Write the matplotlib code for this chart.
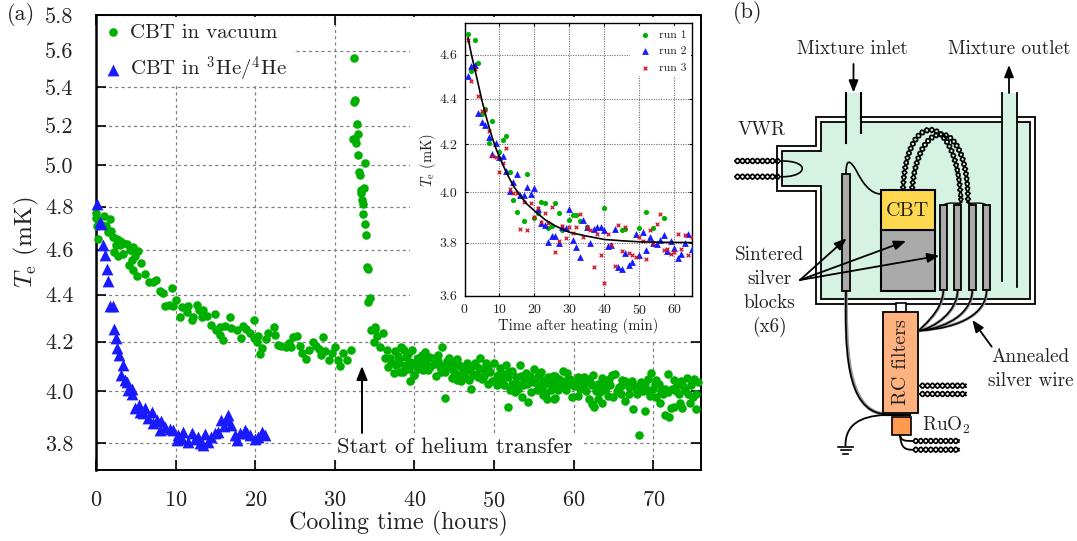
import numpy as np
from matplotlib import pyplot as plt
from matplotlib import rcParams
from matplotlib.patches import Rectangle, Polygon, PathPatch
from matplotlib.path import Path
from matplotlib.ticker import NullLocator

rcParams["font.family"] = "cmr10"
rcParams["mathtext.fontset"] = "cm"
rcParams["axes.formatter.use_mathtext"] = True
rcParams["axes.unicode_minus"] = False

text_color = "#222222"
green = "#00b000"
blue = "#1a1aff"
red = "#d01020"
tube_green = "#d5f2e3"
grid_gray = "#808080"

# (hours, mK)
vacuum_cooldown = [
    (0.0, 4.77), (0.05, 4.745), (0.17, 4.71), (0.25, 4.65), (1.0, 4.755), (1.7, 4.74), (0.7, 4.715),
    (1.25, 4.71), (1.85, 4.685), (1.55, 4.68), (2.1, 4.66), (2.6, 4.65), (3.0, 4.64), (3.4, 4.63),
    (3.9, 4.625), (4.7, 4.61), (5.3, 4.595), (2.25, 4.59), (2.8, 4.57), (3.4, 4.578), (3.0, 4.62),
    (2.5, 4.62), (4.3, 4.6), (4.9, 4.57), (4.5, 4.555), (5.7, 4.54), (4.2, 4.53), (4.6, 4.51),
    (5.1, 4.48), (6.2, 4.49), (6.7, 4.455), (7.5, 4.465), (7.1, 4.455), (8.0, 4.415), (8.4, 4.405),
    (9.5, 4.43), (8.7, 4.35), (9.2, 4.355), (10.0, 4.375), (9.7, 4.35), (10.5, 4.305), (10.75, 4.345),
    (11.6, 4.35), (11.4, 4.325), (12.0, 4.29), (12.2, 4.305), (12.7, 4.355), (13.0, 4.335),
    (13.5, 4.335), (13.3, 4.305), (13.9, 4.31), (15.0, 4.315), (14.4, 4.27), (15.1, 4.25),
    (15.6, 4.262), (16.2, 4.265), (16.8, 4.305), (17.0, 4.258), (17.7, 4.25), (18.2, 4.217),
    (16.0, 4.207), (15.6, 4.23), (18.5, 4.265), (18.9, 4.255), (19.8, 4.292), (19.3, 4.238),
    (19.8, 4.215), (20.2, 4.2), (20.6, 4.15), (20.9, 4.175), (20.3, 4.223), (21.3, 4.213),
    (21.6, 4.238), (22.3, 4.26), (22.5, 4.23), (22.9, 4.187), (23.3, 4.184), (23.9, 4.177),
    (24.2, 4.196), (24.5, 4.177), (24.8, 4.22), (25.2, 4.224), (25.6, 4.182), (25.9, 4.153),
    (26.4, 4.13), (26.7, 4.166), (27.2, 4.197), (27.6, 4.182), (28.0, 4.17), (28.5, 4.218),
    (28.3, 4.146), (28.8, 4.16), (29.3, 4.126), (29.6, 4.153), (30.0, 4.18), (30.4, 4.126),
    (31.0, 4.153), (30.7, 4.1), (31.5, 4.126), (32.0, 4.166),
]
vacuum_spike = [
    (32.4, 5.56), (32.5, 5.333), (32.4, 5.32), (32.8, 5.21), (32.9, 5.157), (32.3, 5.13), (32.7, 5.113),
    (32.5, 5.13), (32.95, 5.05), (33.8, 5.01), (33.05, 4.967), (33.15, 4.953), (33.7, 4.89),
    (33.35, 4.88), (33.35, 4.865), (33.4, 4.83), (33.6, 4.81), (33.55, 4.765), (33.8, 4.718),
    (33.9, 4.667), (34.0, 4.52), (34.2, 4.515), (34.2, 4.37), (34.4, 4.385),
]
vacuum_after = [
    (34.6, 4.25), (35.0, 4.263), (35.1, 4.255), (35.3, 4.223), (36.1, 4.236), (34.9, 4.197), (35.7, 4.18),
    (36.5, 4.164), (36.3, 4.133), (36.9, 4.133), (37.5, 4.16), (36.7, 4.096), (38.3, 4.18),
    (38.7, 4.164), (39.7, 4.166), (37.4, 4.072), (38.0, 4.112), (38.7, 4.085), (39.4, 4.042),
    (39.9, 4.065), (40.3, 4.126), (39.0, 4.105), (37.7, 4.105), (38.2, 4.075), (38.4, 4.173),
    (38.6, 4.075), (38.8, 4.09), (39.5, 4.118), (40.0, 4.064), (40.1, 4.105), (40.5, 4.132),
    (41.1, 4.084), (41.3, 4.159), (41.8, 4.139), (42.2, 4.132), (42.4, 4.11), (42.7, 4.061),
    (42.9, 4.146), (43.2, 4.098), (43.5, 4.177), (43.8, 3.972), (43.9, 4.078), (44.3, 4.132),
    (44.7, 4.091), (44.7, 4.054), (45.3, 4.129), (45.3, 4.044), (45.9, 4.041), (45.9, 4.098),
    (46.2, 4.08), (46.6, 4.112), (46.8, 4.044), (47.1, 4.007), (47.4, 4.064), (47.6, 4.112),
    (48.1, 4.091), (48.2, 4.132), (48.5, 4.05), (49.0, 4.112), (49.3, 4.03), (49.5, 4.078),
    (50.0, 4.112), (50.4, 4.023), (50.5, 4.064), (50.8, 4.091), (51.2, 4.023), (51.5, 4.105),
    (51.7, 4.057), (51.8, 3.937), (52.0, 4.003), (52.6, 3.996), (52.7, 4.057), (52.9, 4.03),
    (53.2, 4.105), (53.5, 3.976), (53.7, 4.023), (54.0, 4.071), (54.3, 3.958), (54.6, 3.996),
    (54.8, 4.037), (55.0, 4.087), (55.4, 4.003), (55.9, 4.078), (56.2, 4.044), (56.5, 3.993),
    (56.7, 3.969), (56.8, 4.057), (57.1, 4.003), (57.3, 4.03), (57.4, 4.061), (57.5, 3.969),
    (57.7, 3.973), (58.7, 4.08), (59.0, 4.003), (59.2, 4.071), (59.6, 4.05), (59.8, 3.976),
    (60.3, 4.037), (60.5, 3.982), (61.3, 4.023), (61.3, 4.057), (61.9, 3.969), (62.3, 4.023),
    (62.3, 3.948), (62.4, 4.064), (62.6, 3.939), (63.1, 3.969), (63.3, 3.996), (63.6, 4.053),
    (63.6, 3.955), (64.0, 4.003), (64.6, 4.023), (64.8, 4.064), (65.0, 3.976), (65.2, 4.067),
    (65.7, 4.016), (66.1, 4.044), (66.4, 3.962), (66.9, 4.016), (67.4, 3.931), (67.5, 4.023),
    (68.0, 3.99), (68.2, 3.83), (68.4, 4.037), (69.0, 3.924), (69.0, 4.023), (69.3, 4.048),
    (69.6, 3.982), (69.7, 4.071), (70.3, 3.976), (70.7, 4.03), (70.9, 3.955), (71.5, 3.908),
    (71.5, 4.01), (71.8, 4.067), (71.9, 3.996), (72.0, 3.9), (72.2, 3.935), (72.6, 4.044),
    (72.6, 3.937), (73.2, 3.989), (73.4, 3.955), (73.6, 3.935), (74.0, 4.003), (74.2, 4.053),
    (74.6, 3.955), (74.8, 4.023), (75.0, 3.976), (75.1, 4.05), (75.4, 3.931), (75.4, 3.989),
    (75.6, 4.037),
]
vacuum_band = [
    (38.1, 4.125), (38.9, 4.135), (39.3, 4.09), (40.7, 4.1), (41.0, 4.125), (41.5, 4.11), (42.0, 4.095),
    (43.0, 4.12), (43.6, 4.1), (44.0, 4.105), (45.0, 4.075), (45.5, 4.065), (46.0, 4.06),
    (46.5, 4.09), (47.0, 4.085), (47.8, 4.07), (48.8, 4.06), (49.8, 4.04), (50.2, 4.05),
    (51.0, 4.04), (51.9, 4.075), (52.3, 4.03), (53.0, 4.01), (53.4, 4.06), (54.2, 4.03),
    (55.2, 4.035), (55.6, 4.02), (56.0, 4.01), (56.4, 4.03), (57.0, 4.05), (57.8, 4.03),
    (58.2, 4.05), (58.5, 4.02), (58.9, 4.04), (59.4, 4.03), (60.0, 4.02), (60.8, 4.01),
    (61.0, 4.04), (61.6, 4.0), (62.0, 4.035), (62.8, 4.0), (63.0, 4.03), (63.9, 4.03),
    (64.3, 3.98), (64.5, 4.05), (65.4, 4.0), (66.0, 4.02), (66.5, 4.04), (67.0, 3.99),
    (67.3, 4.04), (67.8, 4.01), (68.7, 4.0), (69.3, 4.0), (70.0, 4.01), (70.4, 4.045),
    (71.0, 4.0), (71.2, 3.99), (72.3, 4.01), (72.9, 4.0), (73.0, 4.03), (73.8, 4.02),
    (74.4, 3.99), (37.0, 4.115), (37.9, 4.14), (39.2, 4.15), (40.4, 4.09), (40.9, 4.145),
    (41.7, 4.085), (42.6, 4.125), (43.3, 4.075), (44.1, 4.12), (44.9, 4.11), (45.6, 4.105),
    (46.4, 4.055), (47.2, 4.1), (48.0, 4.055), (48.7, 4.09), (49.2, 4.095), (50.7, 4.035),
    (51.4, 4.07), (52.2, 4.08), (53.8, 4.045), (54.5, 4.06), (55.5, 4.06), (56.1, 3.985),
    (57.6, 4.06), (58.0, 4.005), (60.6, 4.055), (61.9, 4.05), (63.4, 4.02), (65.9, 3.99),
    (68.2, 4.02), (70.2, 4.03), (73.5, 4.04),
]
helium = [
    (0.1, 4.81), (0.5, 4.725), (0.6, 4.72), (0.85, 4.62), (1.1, 4.575), (1.35, 4.515), (1.55, 4.46),
    (1.8, 4.35), (2.1, 4.35), (2.25, 4.254), (2.5, 4.216), (2.7, 4.173), (2.95, 4.146),
    (3.35, 4.105), (3.1, 4.065), (3.65, 4.044), (3.9, 4.037), (4.05, 4.004), (4.55, 4.008),
    (4.5, 3.988), (4.9, 3.933), (5.45, 3.946), (5.5, 3.92), (6.1, 3.933), (5.95, 3.914),
    (7.05, 3.92), (6.55, 3.894), (7.2, 3.875), (7.6, 3.888), (8.2, 3.882), (8.0, 3.85),
    (8.65, 3.862), (9.3, 3.852), (9.7, 3.85), (10.2, 3.81), (10.3, 3.83), (10.95, 3.842),
    (10.75, 3.816), (11.6, 3.803), (12.0, 3.836), (12.4, 3.816), (12.85, 3.823), (13.5, 3.791),
    (13.05, 3.8), (13.75, 3.834), (14.1, 3.805), (14.5, 3.823), (14.95, 3.836), (15.35, 3.842),
    (15.65, 3.888), (16.05, 3.865), (16.6, 3.907), (16.4, 3.888), (17.0, 3.868), (17.45, 3.83),
    (17.75, 3.81), (18.05, 3.836), (18.7, 3.85), (19.0, 3.836), (19.3, 3.83), (19.95, 3.816),
    (20.4, 3.823), (20.9, 3.842), (21.2, 3.83),
]

# inset, (minutes, mK)
run1 = [
    (1, 4.70), (2, 4.525), (3, 4.67), (4, 4.56), (5, 4.33), (6, 4.355), (7, 4.207), (8, 4.30), (10, 4.165),
    (11, 4.22), (12, 4.235), (13, 4.085), (14, 3.97), (15, 3.92), (17, 3.885), (18, 4.075),
    (20, 3.895), (21, 3.915), (22, 3.96), (23, 3.958), (24, 3.857), (25, 3.865), (26, 3.955),
    (27, 3.917), (28, 3.85), (30, 3.89), (31, 3.908), (32, 3.907), (33, 3.883), (35, 3.86),
    (40, 3.937), (45, 3.85), (46, 3.852), (50, 3.857), (52, 3.92), (54, 3.858), (57, 3.895),
]
run2_T = [
    4.5, 4.55, 4.553, 4.335, 4.295, 4.285, 4.233, 4.157, 4.205, 4.145, 4.152, 4.088, 4.005, 4.04, 4.073,
    3.99, 3.988, 4.02, 3.992, 4.015, 3.933, 3.875, 3.868, 3.803, 3.825, 3.827, 3.797, 3.862, 3.855,
    3.933, 3.81, 3.782, 3.745, 3.89, 3.862, 3.797, 3.853, 3.86, 3.86, 3.85, 3.785, 3.79, 3.852,
    3.708, 3.698, 3.76, 3.716, 3.724, 3.833, 3.752, 3.84, 3.77, 3.822, 3.797, 3.796, 3.81, 3.83,
    3.767, 3.805, 3.78, 3.742, 3.755, 3.8, 3.832, 3.777,
]
run3_T = [
    4.67, 4.48, 4.535, 4.41, 4.345, 4.348, 4.257, 4.15, 4.145, 4.085, 4.12, 4.185, 4.012, 3.997, 3.997,
    3.853, 3.96, 3.85, 3.958, 3.9, 3.937, 3.882, 3.918, 3.875, 3.94, 3.762, 3.805, 3.865, 3.817,
    3.862, 3.838, 3.862, 3.913, 3.82, 3.86, 3.85, 3.706, 3.835, 3.752, 3.645, 3.833, 3.79, 3.712,
    3.87, 3.767, 3.86, 3.758, 3.752, 3.745, 3.82, 3.808, 3.737, 3.847, 3.8, 3.872, 3.912, 3.77,
    3.775, 3.757, 3.762, 3.835, 3.777, 3.83, 3.752, 3.822,
]
run_minutes = list(range(1, 66))
fit_minutes = [1, 2, 3, 4, 5, 6, 7, 8, 9, 10, 12, 14, 16, 18, 20, 23, 26, 30, 35, 40, 45, 50, 57, 65]
fit_T = [4.68, 4.60, 4.53, 4.46, 4.39, 4.33, 4.275, 4.225, 4.182, 4.145, 4.08, 4.025, 3.985, 3.95, 3.925,
         3.89, 3.865, 3.84, 3.825, 3.812, 3.807, 3.803, 3.801, 3.80]

main_yticks = [3.8, 4.0, 4.2, 4.4, 4.6, 4.8, 5.0, 5.2, 5.4, 5.6, 5.8]
main_xticks = [0, 10, 20, 30, 40, 50, 60, 70]
inset_yticks = [3.6, 3.8, 4.0, 4.2, 4.4, 4.6]
inset_xticks = [0, 10, 20, 30, 40, 50, 60]

W, H = 1077, 541


def box(x0, y0, x1, y1):
    # pixel box to figure fractions
    return [x0 / W, 1 - y1 / H, (x1 - x0) / W, (y1 - y0) / H]


fig = plt.figure(figsize=(W / 100, H / 100), dpi=100)
ax = fig.add_axes(box(96, 15, 701, 470))
sch = fig.add_axes([0, 0, 1, 1], zorder=5)
sch.set_xlim(0, W)
sch.set_ylim(H, 0)
sch.axis("off")

vacuum = np.array(vacuum_cooldown + vacuum_spike + vacuum_after + vacuum_band)
he = np.array(helium)
ax.scatter(vacuum[:, 0], vacuum[:, 1], s=38, color=green, linewidths=0, zorder=3, clip_on=False,
           label="CBT in vacuum")
ax.scatter(he[:, 0], he[:, 1], s=72, marker="^", color=blue, linewidths=0, zorder=4, clip_on=False,
           label=r"CBT in $^{3}$He/$^{4}$He")
ax.set_yscale("log")
ax.set_xlim(0, 76)
ax.set_ylim(3.7, 5.8)
ax.set_yticks(main_yticks)
ax.set_yticklabels(["%.1f" % v for v in main_yticks])
ax.yaxis.set_minor_locator(NullLocator())
ax.set_xticks(main_xticks)
ax.grid(True, color=grid_gray, linestyle=(0, (2.5, 2.5)), linewidth=0.9)
ax.tick_params(direction="in", length=7, width=1.2, top=True, right=True, labelsize=16,
               labelcolor=text_color, pad=16)
ax.tick_params(axis="x", pad=15)
for spine in ax.spines.values():
    spine.set_linewidth(1.4)
ax.spines["left"].set_linewidth(1.8)
ax.set_xlabel("Cooling time (hours)", fontsize=17.3, color=text_color, labelpad=0)
ax.set_ylabel(r"$T_{\mathrm{e}}$ (mK)", fontsize=18, color=text_color, labelpad=3)

# white ground behind the inset and the legend
ax.add_patch(Rectangle((410, 16.5), 289.5, 324.5, transform=sch.transData, facecolor="white",
                       edgecolor="none", zorder=1.6))
ax.add_patch(Rectangle((97, 16.5), 196, 67.5, transform=sch.transData, facecolor="white",
                       edgecolor="none", zorder=1.6))
leg = ax.legend(loc="upper left", bbox_to_anchor=(0, 1 - 2 / 455), borderaxespad=0, fontsize=15, frameon=False,
                labelspacing=0.62, handletextpad=0.35, handlelength=1.0, borderpad=0.3, scatterpoints=1)
for t in leg.get_texts():
    t.set_color(text_color)
leg.set_zorder(2)

inset = fig.add_axes(box(464.5, 23.3, 691.7, 295.7), zorder=3)
r1 = np.array(run1)
inset.scatter(r1[:, 0], r1[:, 1], s=14, color=green, linewidths=0, zorder=3, label="run 1")
inset.scatter(run_minutes, run2_T, s=24, marker="^", color=blue, linewidths=0, zorder=4, label="run 2")
inset.scatter(run_minutes, run3_T, s=7, marker="x", color=red, linewidths=0.9, zorder=5, label="run 3")
inset.plot(fit_minutes, fit_T, color="black", linewidth=1.2, zorder=6)
inset.set_yscale("log")
inset.set_xlim(0, 65)
inset.set_ylim(3.6, 4.75)
inset.set_yticks(inset_yticks)
inset.set_yticklabels(["%.1f" % v for v in inset_yticks])
inset.yaxis.set_minor_locator(NullLocator())
inset.set_xticks(inset_xticks)
inset.grid(True, color="#707070", linestyle=(0, (1, 1.2)), linewidth=0.8)
inset.tick_params(direction="in", length=2.5, width=0.8, top=True, right=True, labelsize=10,
                  labelcolor=text_color, pad=5)
for spine in inset.spines.values():
    spine.set_linewidth(1.0)
inset.set_xlabel("Time after heating (min)", fontsize=10.5, color=text_color, labelpad=1)
inset.set_ylabel(r"$T_{\mathrm{e}}$ (mK)", fontsize=10.5, color=text_color, labelpad=1)
ileg = inset.legend(loc="upper right", bbox_to_anchor=(1, 1 - 2 / 272), borderaxespad=0.1, fontsize=8.5,
                    frameon=True, framealpha=1, facecolor="white", edgecolor="none", labelspacing=0.5,
                    handletextpad=0.2, borderpad=0.3, fancybox=False)
for t in ileg.get_texts():
    t.set_color(text_color)


def label(x, y, s, size=13.8, **kw):
    kw.setdefault("ha", "center")
    sch.text(x, y, s, fontsize=size, color=text_color, va="center", **kw)


def arrow(x0, y0, x1, y1, lw=1.3, scale=13):
    sch.annotate("", xy=(x1, y1), xytext=(x0, y0),
                 arrowprops=dict(arrowstyle="-|>,head_length=0.55,head_width=0.22", color="black", lw=lw,
                                 mutation_scale=scale, shrinkA=0, shrinkB=0))


def bezier(p0, p1, p2, p3, n=90):
    t = np.linspace(0, 1, n)[:, None]
    p0, p1, p2, p3 = map(np.array, (p0, p1, p2, p3))
    return (1 - t) ** 3 * p0 + 3 * (1 - t) ** 2 * t * p1 + 3 * (1 - t) * t ** 2 * p2 + t ** 3 * p3


def curve(p0, p1, p2, p3, lw=1.2, color="black", zorder=4):
    path = Path([p0, p1, p2, p3], [Path.MOVETO, Path.CURVE4, Path.CURVE4, Path.CURVE4])
    sch.add_patch(PathPatch(path, facecolor="none", edgecolor=color, lw=lw, zorder=zorder))


def twisted(points, amp=2.4, period=10.0, lw=1.25, zorder=4):
    # pair of wires wound round a centre line
    seg = np.diff(points, axis=0)
    dist = np.concatenate([[0], np.cumsum(np.hypot(seg[:, 0], seg[:, 1]))])
    n = np.gradient(points, axis=0)
    n = np.column_stack([-n[:, 1], n[:, 0]]) / np.hypot(n[:, 0], n[:, 1])[:, None]
    for sign in (1, -1):
        off = sign * amp * np.sin(2 * np.pi * dist / period)[:, None]
        p = points + off * n
        sch.plot(p[:, 0], p[:, 1], color="black", lw=lw, zorder=zorder)


def straight(x0, y0, x1, y1, n=60):
    return np.column_stack([np.linspace(x0, x1, n), np.linspace(y0, y1, n)])


# panel (b), all in figure pixels
outer = [(816, 117), (1035, 117), (1035, 303.5), (816, 303.5), (816, 191), (777, 191), (777, 146), (816, 146)]
inner = [(821, 122.3), (1030, 122.3), (1030, 299), (821, 299), (821, 185.7), (782, 185.7), (782, 150.7),
         (821, 150.7)]
sch.add_patch(Polygon(outer, closed=True, facecolor="white", edgecolor="black", lw=1.3, zorder=1))
sch.add_patch(Polygon(inner, closed=True, facecolor=tube_green, edgecolor="black", lw=1.3, zorder=1))
for x0, x1 in [(846, 861), (1001.7, 1016.7)]:
    sch.add_patch(Rectangle((x0, 92.7), x1 - x0, 32, facecolor=tube_green, edgecolor="none", zorder=1.5))
sch.plot([846, 846], [92.7, 143], color="black", lw=1.5, zorder=2)
sch.plot([861, 861], [92.7, 133], color="black", lw=1.5, zorder=2)
sch.plot([1001.7, 1001.7], [92.7, 281], color="black", lw=1.3, zorder=2)
sch.plot([1016.7, 1016.7], [92.7, 286.7], color="black", lw=1.3, zorder=2)
arrow(853.5, 64, 853.5, 92.5)
arrow(1009, 93, 1009, 65)

for x0, x1, y0, y1 in [(841.7, 850.3, 174, 290.7), (939.7, 947, 205, 290), (954, 961.3, 205, 290),
                       (968.7, 976, 205, 290), (983, 990.3, 205, 290)]:
    sch.add_patch(Rectangle((x0, y0), x1 - x0, y1 - y0, facecolor="#aaaaaa", edgecolor="black", lw=1.3, zorder=3))
sch.add_patch(Rectangle((881.3, 230), 53.7, 60.7, facecolor="#aaaaaa", edgecolor="black", lw=1.5, zorder=3))
sch.add_patch(Rectangle((881.3, 190), 53.7, 40, facecolor="#ffd850", edgecolor="black", lw=1.5, zorder=3))
sch.add_patch(Rectangle((895.7, 303), 10, 8.7, facecolor="white", edgecolor="black", lw=1.2, zorder=3))
sch.add_patch(Rectangle((883.3, 311.7), 35, 101.6, facecolor="#ffb27f", edgecolor="black", lw=1.3, zorder=3))
sch.add_patch(Rectangle((891.7, 416.7), 19, 18.3, facecolor="#ff9a50", edgecolor="black", lw=1.2, zorder=3))
sch.plot([885, 910], [415, 415], color="black", lw=1.6, zorder=2.5)

# wires
curve((846, 174), (846, 158), (850, 160), (856, 170))
curve((856, 170), (862, 182), (870, 194), (881, 194))
twisted(bezier((903, 190), (906, 108), (957, 108), (961, 202)))
twisted(bezier((912, 190), (918, 114), (968, 114), (968, 202)))
for x in (943.5, 957.5):
    curve((962, 202), (958, 205), (x + 6, 201), (x, 205), lw=1.0)
for x in (972.5, 986.5):
    curve((967, 202), (970, 205), (x - 6, 201), (x, 205), lw=1.0)

twisted(straight(735, 161, 779, 161))
twisted(straight(735, 176.7, 779, 176.7))
curve((779, 161), (812, 160), (808, 178), (779, 176.7))

curve((846, 291), (846, 345), (846, 412), (885, 414), lw=2.6, color="#999999", zorder=2)
curve((846, 291), (845, 345), (845, 412), (885, 414), lw=1.2)
curve((885, 415), (860, 416), (845, 425), (845.5, 446), lw=1.3)
sch.plot([837.7, 853.3], [446.7, 446.7], color="black", lw=1.2)
sch.plot([840.7, 850.7], [450.3, 450.3], color="black", lw=1.2)
sch.plot([843, 848], [454.3, 454.3], color="black", lw=1.2)
for x in (943.3, 957.6, 972.3, 986.6):
    curve((x, 291), (x, 312), (x - 22, 327), (919, 330.7), lw=2.2, color="#999999", zorder=2)
    curve((x, 291), (x - 1, 312), (x - 23, 328), (919, 330.7), lw=1.1)

twisted(straight(920, 385.7, 966, 385.7))
twisted(straight(920, 394, 966, 394))
twisted(straight(913.3, 441, 959, 441))
twisted(straight(913.3, 449.7, 959, 449.7))
curve((900, 435), (901, 441), (905, 441), (913.3, 441), lw=1.3)
curve((900, 435), (901, 448), (905, 450), (913.3, 449.7), lw=1.3)

arrow(800, 280, 846.5, 238.3)
arrow(800, 280, 906, 241)
arrow(800, 280, 939.3, 255.7)
arrow(991.7, 346.7, 972.3, 320)

label(761.7, 130, "VWR")
label(852.7, 49.3, "Mixture inlet")
label(1009, 49.3, "Mixture outlet")
label(908, 211, "CBT", size=14.5, zorder=6)
label(769, 255, "Sintered")
label(769, 279, "silver")
label(769, 303, "blocks")
label(769, 327, "(x6)")
label(922, 425, r"RuO$_{2}$", ha="left")
label(1030.7, 357, "Annealed")
label(1030.7, 381, "silver wire")
label(901, 361.7, "RC filters", rotation=90, size=14.5, zorder=6)

label(21, 15, "(a)", size=16)
label(748, 13, "(b)", size=16)

# transfer note sits on its own white ground
sch.add_patch(Rectangle((333, 433), 249, 25, facecolor="white", edgecolor="none", zorder=1))
label(455, 447, "Start of helium transfer", size=16.4, zorder=2)
arrow(362, 433, 362, 366, lw=1.4, scale=15)

fig.savefig("out.png", dpi=100)
